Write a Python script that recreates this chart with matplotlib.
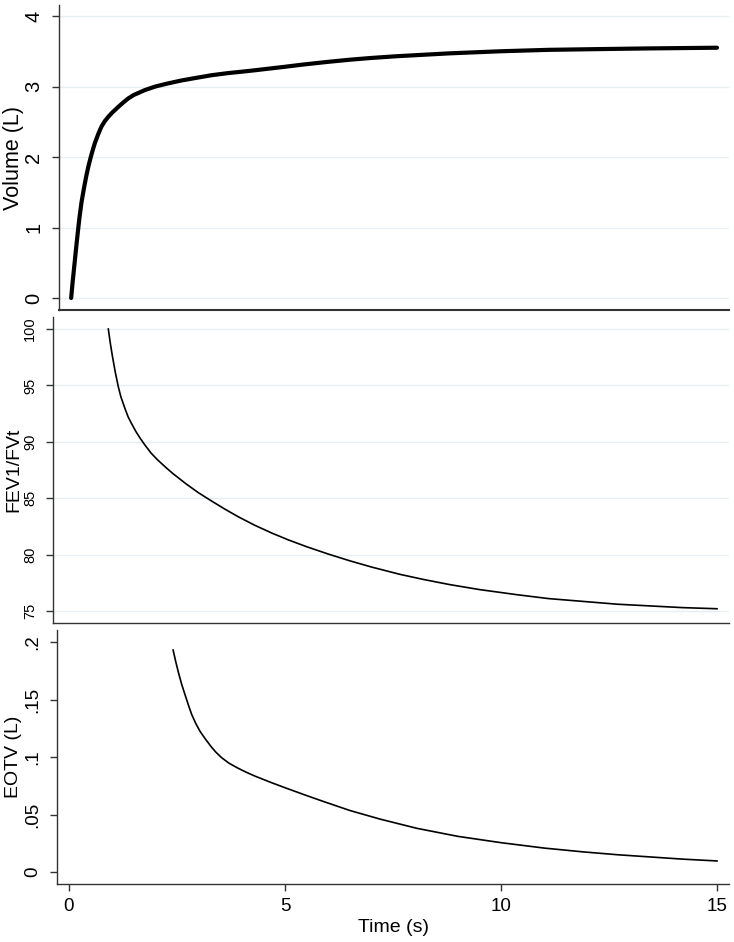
import matplotlib
matplotlib.use("Agg")
import matplotlib.pyplot as plt
from matplotlib.transforms import blended_transform_factory as blend

plt.rcParams['font.family'] = ['Liberation Sans', 'DejaVu Sans']

# ---- data ----
vol_t = [0.05, 0.08, 0.12, 0.16, 0.2, 0.24, 0.29, 0.35, 0.4, 0.45, 0.5, 0.55, 0.6,
         0.68, 0.75, 0.83, 0.91, 1.0, 1.14, 1.25, 1.37, 1.5, 1.76, 2.0, 2.3, 2.6,
         2.92, 3.3, 3.68, 4.0, 4.3, 5.0, 5.4, 6.0, 6.5, 7.0, 7.6, 8.8, 10, 11.1,
         12.2, 13.4, 15]
vol_v = [0, 0.2, 0.44, 0.68, 0.91, 1.13, 1.36, 1.57, 1.73, 1.87, 1.99, 2.1, 2.2,
         2.33, 2.43, 2.51, 2.57, 2.63, 2.71, 2.77, 2.83, 2.88, 2.95, 3.0, 3.045, 3.085,
         3.12, 3.16, 3.19, 3.21, 3.23, 3.28, 3.31, 3.35, 3.38, 3.405, 3.43, 3.47, 3.5, 3.52,
         3.53, 3.54, 3.55]

fev_t = [0.91, 0.95, 1.0, 1.07, 1.14, 1.2, 1.3, 1.37, 1.45, 1.55, 1.65, 1.76, 1.9,
         2.05, 2.22, 2.4, 2.7, 2.99, 3.3, 3.6, 3.92, 4.3, 4.7, 5.08, 5.5, 6.0, 6.5,
         7.0, 7.66, 8.2, 8.8, 9.5, 10.36, 11.1, 11.9, 12.7, 13.45, 14.2, 15]
fev_v = [100, 98.9, 97.7, 96.2, 94.9, 94.0, 92.9, 92.2, 91.6, 90.9, 90.3, 89.7, 89.0,
         88.4, 87.8, 87.2, 86.3, 85.5, 84.75, 84.05, 83.35, 82.6, 81.9, 81.3, 80.7, 80.05,
         79.45, 78.9, 78.25, 77.8, 77.35, 76.9, 76.45, 76.1, 75.85, 75.6, 75.45, 75.3, 75.2]

eotv_t = [2.41, 2.47, 2.54, 2.61, 2.7, 2.77, 2.84, 2.93, 3.03, 3.15, 3.3, 3.4,
          3.53, 3.7, 3.9, 4.1, 4.31, 4.7, 5.0, 5.46, 5.9, 6.5, 7.2, 8.05, 9.0, 10, 11.0,
          11.9, 12.7, 13.45, 14.2, 15]
eotv_v = [0.193, 0.183, 0.1725, 0.163, 0.1525, 0.1445, 0.137, 0.1295, 0.1225, 0.116,
          0.1085, 0.1042, 0.0995, 0.0947, 0.0905, 0.0868, 0.0833, 0.0775, 0.0733, 0.067,
          0.0612, 0.0535, 0.046, 0.038, 0.031, 0.0255, 0.0208, 0.0175, 0.015, 0.0131,
          0.0112, 0.0096]

vol_ticks = [0, 1, 2, 3, 4]
vol_labels = ['0', '1', '2', '3', '4']
fev_ticks = [75, 80, 85, 90, 95, 100]
fev_labels = ['75', '80', '85', '90', '95', '100']
eotv_ticks = [0, 0.05, 0.1, 0.15, 0.2]
eotv_labels = ['0', '.05', '.1', '.15', '.2']
x_ticks = [0, 5, 10, 15]
x_labels = ['0', '5', '10', '15']

W, H = 734, 942
fig = plt.figure(figsize=(W / 100, H / 100), dpi=100)
fig.patch.set_facecolor('white')

def px_axes(left, top, right, bottom):
    return fig.add_axes([left / W, (H - bottom) / H, (right - left) / W, (bottom - top) / H])

axc = '#333333'
gridc = '#e6eef0'

def style(ax, yticks, ylabels, tsize, grid):
    for s in ['top', 'right']:
        ax.spines[s].set_visible(False)
    for s in ['left', 'bottom']:
        ax.spines[s].set_color(axc)
        ax.spines[s].set_linewidth(1.0)
    ax.set_yticks(yticks)
    ax.set_yticklabels(ylabels, rotation=90, va='center', fontsize=tsize)
    ax.tick_params(axis='y', direction='out', length=5, width=1, color=axc, pad=6.5)
    if grid:
        for yv in yticks:
            ax.axhline(yv, color=gridc, lw=1.0, zorder=0)

# top panel
ax1 = px_axes(59, 5, 729, 310)
ax1.plot(vol_t, vol_v, color='black', lw=3.0, solid_capstyle='round', solid_joinstyle='round')
ax1.set_xlim((59 - 69) / 43.2, (729 - 69) / 43.2)
ax1.set_ylim(-12 / 70.5, 4 + 11 / 70.5)
style(ax1, vol_ticks, vol_labels, 14.5, True)
ax1.spines['bottom'].set_linewidth(1.5)
ax1.set_xticks([])
ax1.set_ylabel('Volume (L)', fontsize=15.5, va='center')
ax1.yaxis.set_label_coords(14 / W, 0.5, transform=blend(fig.transFigure, ax1.transAxes))

# middle panel
ax2 = px_axes(53, 317, 729, 623)
ax2.plot(fev_t, fev_v, color='black', lw=1.2, solid_joinstyle='round')
ax2.set_xlim((53 - 69) / 43.2, (729 - 69) / 43.2)
ax2.set_ylim(75 - 12 / 11.28, 100 + 12 / 11.28)
style(ax2, fev_ticks, fev_labels, 10.5, True)
ax2.set_xticks([])
ax2.set_ylabel('FEV1/FVt', fontsize=14, va='center')
ax2.yaxis.set_label_coords(14 / W, 0.5, transform=blend(fig.transFigure, ax2.transAxes))

# bottom panel
ax3 = px_axes(57, 630, 729, 884)
ax3.plot(eotv_t, eotv_v, color='black', lw=1.2, solid_joinstyle='round')
ax3.set_xlim((57 - 69) / 43.2, (729 - 69) / 43.2)
ax3.set_ylim(-12 / 1150, 0.2 + 12 / 1150)
style(ax3, eotv_ticks, eotv_labels, 13.5, False)
ax3.set_xticks(x_ticks)
ax3.set_xticklabels(x_labels, fontsize=13.5)
ax3.tick_params(axis='x', direction='out', length=5, width=1, color=axc, pad=5)
ax3.set_ylabel('EOTV (L)', fontsize=14, va='center')
ax3.yaxis.set_label_coords(14 / W, 0.5, transform=blend(fig.transFigure, ax3.transAxes))
ax3.set_xlabel('Time (s)', fontsize=14, va='center')
ax3.xaxis.set_label_coords(0.5, (H - 927) / H, transform=blend(ax3.transAxes, fig.transFigure))

fig.savefig('out.png', dpi=100, facecolor='white')
